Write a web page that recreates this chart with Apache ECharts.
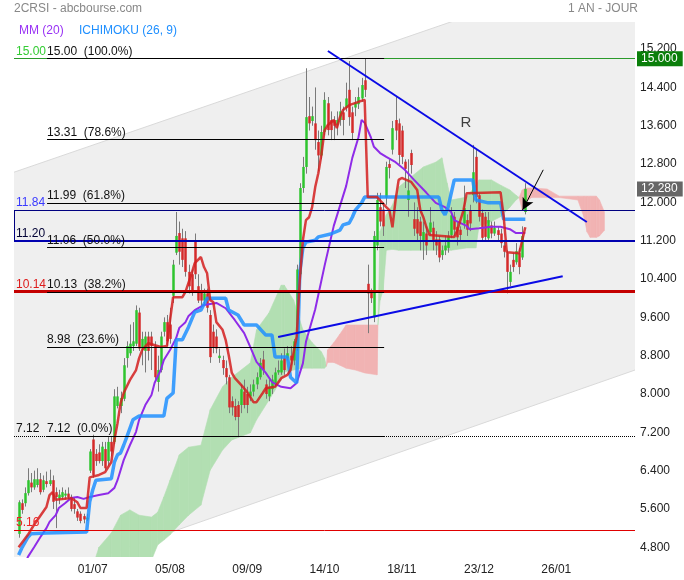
<!DOCTYPE html>
<html>
<head>
<meta charset="utf-8">
<title>2CRSI</title>
<script src="https://cdn.jsdelivr.net/npm/echarts@6.0.0/dist/echarts.min.js"></script>
<style>
  html, body { margin: 0; padding: 0; background: #fff; }
  #chart { width: 684px; height: 580px; }
</style>
</head>
<body>
<div id="chart"></div>
<script>
// x axis: one slot per trading day (plus the 26 day ichimoku projection)
var xTickIdx = [25, 50, 75, 100, 125, 150, 175]
var xTicks = ['01/07', '05/08', '09/09', '14/10', '18/11', '23/12', '26/01']
var yTicks = [4.8, 5.6, 6.4, 7.2, 8.0, 8.8, 9.6, 10.4, 11.2, 12.0, 12.8, 13.6, 14.4, 15.2]

// daily candles [open, high, low, close], first one sits in slot 1
var firstDay = 1
var ohlc = [
  [5.08, 5.78, 5.00, 5.74], [5.72, 5.80, 5.50, 5.58], [5.72, 6.05, 5.65, 5.93], [5.93, 6.45, 5.88, 6.20],
  [6.15, 6.35, 5.95, 6.05], [6.05, 6.40, 6.00, 6.22], [6.10, 6.45, 6.05, 6.22], [6.22, 6.35, 5.90, 5.95],
  [6.00, 6.30, 5.95, 6.20], [6.18, 6.38, 6.05, 6.12], [6.12, 6.42, 6.08, 6.20], [6.20, 6.30, 5.60, 5.75],
  [5.95, 6.05, 5.20, 5.85], [5.82, 6.00, 5.70, 5.90], [5.85, 6.05, 5.80, 5.95], [5.88, 6.00, 5.80, 5.92],
  [5.92, 6.05, 5.80, 5.85], [5.82, 5.90, 5.55, 5.60], [5.70, 5.85, 5.50, 5.60], [5.55, 5.60, 5.35, 5.42],
  [5.50, 5.55, 5.30, 5.35], [5.45, 5.50, 5.30, 5.38], [5.38, 5.50, 5.35, 5.42], [6.40, 6.85, 6.35, 6.80],
  [7.05, 7.15, 6.25, 6.30], [6.75, 6.85, 6.50, 6.60], [6.78, 6.95, 6.55, 6.60], [6.60, 7.00, 6.50, 6.90],
  [6.85, 7.00, 6.40, 6.45], [6.60, 7.10, 6.50, 7.00], [7.00, 7.10, 6.70, 6.80], [7.00, 8.10, 6.95, 7.95],
  [7.75, 8.15, 7.70, 7.95], [7.75, 8.05, 7.60, 7.92], [7.90, 8.75, 7.85, 8.60], [8.75, 9.10, 8.55, 9.00],
  [8.85, 9.45, 8.80, 9.05], [9.00, 9.50, 8.90, 9.10], [9.05, 9.85, 9.00, 9.75], [9.70, 9.80, 8.90, 8.95],
  [8.95, 9.30, 8.60, 9.15], [8.90, 9.30, 8.45, 9.20], [9.20, 9.30, 8.70, 8.90], [9.20, 9.30, 8.50, 9.00],
  [9.00, 9.10, 8.30, 8.35], [8.25, 8.80, 8.05, 8.50], [8.50, 9.30, 8.45, 9.20], [9.30, 9.60, 9.20, 9.50],
  [9.50, 9.65, 9.00, 9.10], [9.45, 9.80, 9.05, 9.15], [10.05, 10.80, 9.90, 10.70], [10.95, 11.80, 10.90, 11.30],
  [11.36, 11.60, 10.70, 10.97], [11.25, 11.45, 10.65, 10.80], [11.25, 11.40, 10.45, 10.55], [10.55, 10.70, 10.10, 10.25],
  [10.50, 10.60, 10.05, 10.15], [11.20, 11.35, 10.40, 10.50], [10.25, 10.50, 9.90, 9.95], [10.15, 10.30, 9.80, 9.95],
  [9.95, 10.20, 9.85, 10.10], [10.10, 10.20, 9.70, 9.80], [9.65, 9.75, 8.65, 8.77], [9.30, 9.45, 8.85, 8.98],
  [9.20, 9.35, 8.85, 8.95], [8.75, 8.95, 8.65, 8.80], [8.71, 8.80, 8.40, 8.54], [8.54, 8.70, 8.20, 8.35],
  [8.35, 8.40, 7.60, 7.72], [7.85, 7.95, 7.55, 7.72], [7.75, 7.90, 7.45, 7.52], [7.77, 7.85, 7.10, 7.52],
  [7.77, 8.20, 7.60, 8.10], [8.05, 8.30, 7.70, 7.77], [8.00, 8.15, 7.60, 7.77], [7.95, 8.20, 7.85, 8.05],
  [8.05, 8.30, 7.95, 8.20], [8.20, 8.45, 8.10, 8.35], [8.35, 8.75, 8.30, 8.65], [8.72, 8.90, 8.40, 8.50],
  [8.20, 8.30, 7.90, 8.00], [7.95, 8.30, 7.85, 8.15], [8.10, 8.40, 8.00, 8.30], [8.20, 8.55, 8.15, 8.45],
  [8.45, 8.70, 8.40, 8.50], [8.45, 8.85, 8.40, 8.70], [8.75, 8.95, 8.40, 8.50], [8.75, 9.00, 8.70, 8.85],
  [8.80, 9.00, 8.60, 8.70], [8.70, 9.15, 8.60, 9.10], [8.98, 10.70, 8.90, 10.60], [10.50, 12.40, 10.40, 12.30],
  [12.30, 12.95, 12.20, 12.74], [12.74, 14.80, 12.60, 13.78], [13.80, 14.20, 13.50, 13.65], [13.70, 14.00, 13.60, 13.80],
  [13.65, 14.40, 13.10, 13.30], [13.26, 13.50, 12.65, 12.98], [12.98, 13.60, 12.90, 13.47], [13.47, 14.30, 13.40, 14.14],
  [14.07, 14.20, 13.40, 13.51], [13.72, 13.90, 13.30, 13.51], [13.72, 13.80, 13.30, 13.60], [13.62, 13.90, 13.40, 13.72],
  [13.72, 14.10, 13.60, 13.90], [13.88, 14.00, 13.40, 13.72], [13.98, 14.50, 13.90, 14.17], [14.35, 14.95, 13.60, 13.78],
  [13.88, 14.00, 13.30, 13.45], [13.98, 14.20, 13.80, 14.08], [14.05, 14.40, 13.95, 14.20], [14.17, 14.60, 14.10, 14.45],
  [14.55, 15.00, 14.20, 14.35], [10.30, 10.70, 9.27, 10.10], [10.15, 10.20, 9.90, 10.00], [9.60, 11.40, 9.50, 11.30],
  [11.10, 12.20, 11.00, 12.05], [11.90, 12.20, 11.50, 11.60], [11.85, 12.00, 11.30, 11.50], [12.10, 12.85, 11.95, 12.74],
  [12.80, 12.90, 12.50, 12.72], [13.10, 13.70, 13.00, 13.55], [13.72, 14.20, 13.30, 13.50], [13.65, 13.75, 12.80, 12.99],
  [13.50, 13.60, 12.80, 12.95], [12.85, 12.90, 12.30, 12.70], [12.05, 12.90, 11.70, 12.25], [13.03, 13.10, 12.60, 12.78],
  [11.65, 12.00, 11.30, 11.45], [11.65, 11.90, 11.20, 11.35], [11.60, 11.70, 11.00, 11.30], [11.20, 11.60, 10.80, 11.38],
  [11.35, 11.50, 10.90, 11.10], [11.38, 11.90, 11.30, 11.58], [11.47, 11.60, 11.00, 11.18], [11.23, 11.40, 10.90, 11.10],
  [11.23, 11.30, 10.75, 10.85], [10.90, 11.10, 10.80, 11.00], [11.00, 11.30, 10.90, 11.10], [11.05, 11.40, 10.95, 11.30],
  [11.32, 11.90, 11.25, 11.73], [11.70, 11.80, 11.30, 11.43], [11.49, 11.60, 11.10, 11.27], [11.43, 11.50, 11.20, 11.32],
  [11.56, 12.35, 11.45, 11.88], [11.63, 11.75, 11.30, 11.43], [11.84, 11.95, 11.40, 11.56], [12.15, 13.20, 12.00, 12.63],
  [12.95, 13.10, 11.98, 12.11], [12.15, 12.20, 11.60, 11.70], [11.78, 11.85, 11.20, 11.26], [11.70, 11.80, 11.20, 11.28],
  [11.25, 11.80, 11.20, 11.63], [11.52, 11.60, 11.25, 11.35], [11.35, 11.60, 11.30, 11.47], [11.42, 11.50, 11.20, 11.32],
  [11.35, 11.45, 11.05, 11.15], [11.10, 11.20, 10.85, 10.97], [10.94, 11.00, 10.10, 10.55], [10.34, 10.70, 10.25, 10.55],
  [10.80, 10.95, 10.55, 10.65], [10.75, 11.15, 10.70, 10.98], [10.94, 11.05, 10.50, 10.65], [10.85, 11.50, 10.80, 11.30],
  [11.80, 12.40, 11.75, 12.28]
]

// ichimoku tenkan (red), kijun (blue) and 20 day average (purple), read as [slot, value]
var tenkan = [
  [1, 4.80], [4, 5.06], [6, 5.27], [10, 5.64], [11, 5.89], [12, 5.95], [13, 5.79], [18, 5.83], [20, 5.74],
  [21, 5.62], [23, 5.62], [24, 6.26], [27, 6.31], [29, 6.37], [31, 6.58], [32, 7.04], [33, 7.39], [34, 7.81],
  [35, 8.02], [37, 8.29], [39, 8.50], [40, 8.75], [41, 8.92], [43, 9.06], [47, 8.98], [49, 9.00], [50, 9.54],
  [51, 10.02], [54, 10.02], [55, 10.13], [57, 10.52], [58, 10.73], [60, 10.86], [61, 10.65], [62, 10.52],
  [63, 9.96], [64, 9.92], [65, 9.50], [67, 9.34], [68, 9.13], [69, 8.81], [70, 8.44], [71, 8.33], [73, 8.19],
  [75, 8.04], [77, 7.83], [78, 7.83], [80, 8.02], [81, 8.12], [84, 8.15], [86, 8.33], [88, 8.40], [89, 8.50],
  [90, 8.87], [91, 9.20], [92, 10.38], [93, 11.21], [94, 11.63], [95, 11.69], [96, 11.90], [97, 12.32],
  [98, 12.61], [99, 13.00], [100, 13.50], [101, 13.61], [103, 13.72], [104, 13.55], [105, 13.78], [106, 13.93],
  [108, 14.03], [111, 14.10], [113, 14.14], [114, 12.11], [117, 12.11], [120, 11.90], [121, 11.84], [122, 11.48],
  [123, 12.05], [124, 12.47], [125, 12.51], [128, 12.43], [130, 12.26], [131, 11.84], [132, 11.69], [133, 11.48],
  [134, 11.32], [142, 11.28], [143, 11.42], [144, 11.63], [145, 11.84], [146, 12.19], [157, 12.21], [158, 11.70],
  [159, 10.96], [163, 10.94], [164, 11.21], [165, 11.48]
]
var kijun = [
  [1, 4.64], [2, 4.78], [4, 5.01], [5, 5.08], [10, 5.10], [23, 5.12], [24, 5.75], [25, 6.00], [26, 6.20],
  [31, 6.23], [32, 6.58], [33, 6.73], [34, 6.77], [35, 6.93], [36, 7.10], [38, 7.46], [40, 7.54], [48, 7.54],
  [49, 7.91], [51, 8.02], [52, 9.13], [54, 9.13], [56, 9.40], [58, 9.71], [60, 9.75], [62, 10.00], [68, 10.00],
  [69, 9.75], [72, 9.65], [74, 9.44], [78, 9.44], [81, 9.23], [83, 9.23], [84, 8.77], [88, 8.77], [89, 8.35],
  [91, 8.23], [92, 10.53], [93, 11.05], [94, 11.17], [97, 11.21], [98, 11.28], [102, 11.34], [105, 11.42],
  [106, 11.53], [108, 11.57], [109, 11.69], [110, 11.84], [112, 11.99], [113, 12.11], [137, 12.11], [138, 11.84],
  [139, 11.74], [140, 11.90], [142, 12.47], [148, 12.47], [149, 12.05], [153, 11.99], [157, 11.99], [158, 11.65],
  [165, 11.65]
]
var mm20 = [
  [3, 4.45], [4, 4.60], [6, 4.80], [8, 5.01], [10, 5.20], [11, 5.33], [13, 5.47], [14, 5.62], [16, 5.72],
  [18, 5.83], [20, 5.85], [22, 5.81], [24, 5.85], [27, 5.89], [30, 5.93], [32, 6.04], [33, 6.20], [35, 6.62],
  [37, 6.93], [39, 7.21], [40, 7.46], [42, 7.77], [44, 7.98], [45, 8.23], [47, 8.50], [48, 8.71], [50, 8.92],
  [52, 9.17], [53, 9.38], [55, 9.50], [56, 9.63], [58, 9.75], [61, 9.86], [65, 9.90], [68, 9.79], [71, 9.54],
  [74, 9.27], [76, 8.98], [78, 8.67], [81, 8.44], [83, 8.25], [86, 8.15], [89, 8.12], [91, 8.23], [93, 8.64],
  [94, 9.09], [97, 9.77], [100, 10.67], [103, 11.51], [107, 12.34], [109, 12.93], [111, 13.36], [112, 13.72],
  [113, 13.66], [115, 13.36], [116, 13.16], [118, 13.03], [120, 12.95], [123, 12.84], [126, 12.68], [129, 12.47],
  [133, 12.20], [136, 11.99], [139, 11.90], [141, 11.80], [142, 11.63], [146, 11.51], [147, 11.44], [150, 11.46],
  [154, 11.49], [157, 11.49], [160, 11.44], [162, 11.36], [165, 11.36]
]

// ichimoku cloud [slot, senkou A, senkou B]
var cloud = [
  [26, 4.60, 4.55], [27, 4.80, 4.43], [31, 5.10, 4.43], [34, 5.47, 4.43], [37, 5.58, 4.43], [40, 5.47, 4.43],
  [44, 5.43, 4.53], [46, 5.53, 4.85], [48, 5.85, 4.95], [50, 6.20, 5.06], [53, 6.73, 5.27], [56, 6.89, 5.47],
  [60, 6.93, 5.68], [63, 7.67, 6.41], [67, 8.15, 6.83], [70, 8.35, 7.04], [76, 8.65, 7.19], [78, 9.34, 7.46],
  [82, 9.69, 7.87], [86, 10.27, 8.29], [87, 10.27, 8.46], [90, 9.96, 8.50], [93, 9.34, 8.54], [96, 9.07, 8.54],
  [99, 8.88, 8.54], [100, 8.75, 8.54], [100.6, 8.58, 8.58], [101, 8.66, 8.92], [103, 8.66, 9.07], [105, 8.60, 9.25],
  [107, 8.54, 9.44], [110, 8.50, 9.44], [113, 8.44, 9.44], [117, 8.40, 9.44], [117.3, 9.44, 9.44],
  [118, 11.40, 9.96], [119, 11.55, 10.17], [120, 11.74, 11.00], [122, 11.95, 11.02], [124, 12.32, 11.00],
  [128, 12.53, 11.00], [132, 12.74, 11.00], [136, 12.84, 11.00], [138, 12.93, 11.00], [139.7, 12.40, 11.00],
  [141, 12.05, 11.00], [146, 12.11, 11.05], [149, 12.36, 11.05], [150, 12.47, 11.50], [154, 12.47, 11.60],
  [157, 12.36, 11.70], [160, 12.26, 11.90], [162, 12.15, 12.05], [163, 12.10, 12.10], [164, 11.84, 12.26],
  [165, 12.00, 12.30], [167, 12.10, 12.30], [172, 12.10, 12.28], [176, 12.10, 12.13], [182, 12.05, 12.13],
  [184, 11.69, 12.13], [185, 11.38, 12.13], [186, 11.27, 12.13], [188, 11.27, 12.13], [189, 11.30, 12.05],
  [190.6, 11.42, 11.80]
]

// drawn levels and fibonacci retracement
var levels = [15.00, 11.84, 11.20, 10.14, 7.12, 5.16]
var fibLevels = [15.00, 13.31, 11.99, 11.06, 10.13, 8.98, 7.12]
var fibPct = ['100.0%', '78.6%', '61.8%', '50.0%', '38.2%', '23.6%', '0.0%']
var lastClose = 12.28

// drawings, as [slot, price]
var resistLine = [[101.1, 15.16], [184.9, 11.59]]
var supportLine = [[85.0, 9.19], [177.1, 10.46]]
var channelTop = [[-0.5, 12.63], [200.5, 17.09]]
var channelBottom = [[-0.5, 3.97], [200.5, 8.50]]
var arrow = [[170.8, 12.68], [164.1, 11.84]]
var note = [[145.8, 13.66]]

var font = '"Liberation Sans", Arial, sans-serif'

function drawChannel (params, api) {
  var t0 = api.coord(channelTop[0])
  var t1 = api.coord(channelTop[1])
  var b0 = api.coord(channelBottom[0])
  var b1 = api.coord(channelBottom[1])
  return {
    type: 'group',
    children: [
      {type: 'polygon', shape: {points: [t0, t1, b1, b0]}, style: {fill: '#efefef'}},
      {type: 'line', shape: {x1: t0[0], y1: t0[1], x2: t1[0], y2: t1[1]}, style: {stroke: '#d9d9d9', lineWidth: 1}},
      {type: 'line', shape: {x1: b0[0], y1: b0[1], x2: b1[0], y2: b1[1]}, style: {stroke: '#d9d9d9', lineWidth: 1}}
    ]
  }
}

function drawCloud (params, api) {
  var k = params.dataIndex
  if (k >= cloud.length - 1) return
  var p = cloud[k]
  var q = cloud[k + 1]
  var pts = [api.coord([p[0], p[1]]), api.coord([q[0], q[1]]), api.coord([q[0], q[2]]), api.coord([p[0], p[2]])]
  var col = (p[1] + q[1]) >= (p[2] + q[2]) ? '#b2dfb2' : '#f1b3b3'
  return {type: 'polygon', shape: {points: pts}, style: {fill: col, stroke: col, lineWidth: 0.6}}
}

function drawCandle (params, api) {
  var x = api.value(0)
  var o = api.coord([x, api.value(1)])
  var h = api.coord([x, api.value(2)])
  var l = api.coord([x, api.value(3)])
  var c = api.coord([x, api.value(4)])
  var up = api.value(4) >= api.value(1)
  var w = 2.5
  var cx = Math.round(o[0]) + 0.5
  var top = Math.min(o[1], c[1])
  var hgt = Math.max(1, Math.abs(o[1] - c[1]))
  return {
    type: 'group',
    children: [
      {type: 'line', shape: {x1: cx, y1: h[1], x2: cx, y2: l[1]}, style: {stroke: '#7a7a7a', lineWidth: 1}},
      {type: 'rect', shape: {x: cx - w / 2, y: top, width: w, height: hgt}, style: {fill: up ? '#2ec42e' : '#d42a2a'}}
    ]
  }
}

var candleData = ohlc.map(function (d, k) { return [firstDay + k, d[0], d[1], d[2], d[3]] })

var lineColor = ['#2a9a2a', '#000080', '#0000b0', '#c40000', '#000000', '#e00000']
var lineWidth = [1, 1, 2, 3, 1, 1]
var labelColor = ['#33cc33', '#3a3aff', '#000033', '#dd1a1a', '#111111', '#ee2222']

var markData = []
levels.forEach(function (v, k) {
  markData.push({
    yAxis: v,
    lineStyle: {color: lineColor[k], width: lineWidth[k], type: k === 4 ? 'dotted' : 'solid'},
    label: {show: true, position: 'insideStartTop', distance: [2, 1], formatter: v.toFixed(2), color: labelColor[k], fontSize: 12, fontFamily: font}
  })
})
fibLevels.forEach(function (v, k) {
  markData.push([
    {coord: [10.2, v], lineStyle: {color: '#000', width: 1, type: 'solid'},
      label: {show: true, position: 'insideStartTop', distance: [0, 1], formatter: v.toFixed(2) + '  (' + fibPct[k] + ')', color: '#111', fontSize: 12, fontFamily: font}},
    {coord: [119.3, v]}
  ])
})
// left edge of the 11.20 / 11.84 box
markData.push([{coord: [-0.5, levels[2]], lineStyle: {color: '#000080', width: 1, type: 'solid'}, label: {show: false}}, {coord: [-0.5, levels[1]]}])
// trend lines
markData.push([{coord: resistLine[0], lineStyle: {color: '#0a0ae6', width: 2, type: 'solid'}, label: {show: false}}, {coord: resistLine[1]}])
markData.push([{coord: supportLine[0], lineStyle: {color: '#0a0ae6', width: 2, type: 'solid'}, label: {show: false}}, {coord: supportLine[1]}])
// arrow
markData.push([
  {coord: arrow[0], symbol: 'none', lineStyle: {color: '#000', width: 1, type: 'solid'}, label: {show: false}},
  {coord: arrow[1], symbol: 'arrow', symbolSize: [9, 12]}
])
// price tags on the axis
markData.push({
  yAxis: levels[0], lineStyle: {color: 'rgba(0,0,0,0)', width: 0},
  label: {show: true, position: 'end', distance: 2, formatter: levels[0].toFixed(3), color: '#fff', backgroundColor: '#0b7f0b', padding: [2, 5, 1, 4], fontSize: 12, fontFamily: font}
})
markData.push({
  yAxis: lastClose, lineStyle: {color: 'rgba(0,0,0,0)', width: 0},
  label: {show: true, position: 'end', distance: 2, formatter: lastClose.toFixed(3), color: '#fff', backgroundColor: '#666', padding: [2, 5, 1, 4], fontSize: 12, fontFamily: font}
})

var chart = echarts.init(document.getElementById('chart'))
chart.setOption({
  animation: false,
  backgroundColor: '#fff',
  textStyle: {fontFamily: font},
  grid: {left: 14, right: 49, top: 22, bottom: 23},
  graphic: [
    {type: 'text', left: 14, top: 3, style: {text: '2CRSI - abcbourse.com', fill: '#888', font: '12px ' + font}},
    {type: 'text', right: 46, top: 3, style: {text: '1 AN - JOUR', fill: '#888', font: '12px ' + font}},
    {type: 'text', left: 19, top: 25, style: {text: 'MM (20)', fill: '#9932f5', font: '12px ' + font}},
    {type: 'text', left: 79, top: 25, style: {text: 'ICHIMOKU (26, 9)', fill: '#1e8fff', font: '12px ' + font}}
  ],
  xAxis: {
    type: 'value',
    min: -0.5,
    max: 200.5,
    axisLine: {show: false},
    axisTick: {show: false},
    splitLine: {show: false},
    axisLabel: {
      customValues: xTickIdx,
      color: '#222',
      fontSize: 12,
      margin: 7,
      formatter: function (v) { return xTicks[xTickIdx.indexOf(Math.round(v))] || '' }
    }
  },
  yAxis: {
    type: 'value',
    position: 'right',
    min: 4.597,
    max: 15.766,
    axisLine: {show: false},
    axisTick: {show: false},
    splitLine: {show: false},
    axisLabel: {
      customValues: yTicks,
      color: '#222',
      fontSize: 12,
      margin: 5,
      formatter: function (v) { return v.toFixed(3) }
    }
  },
  series: [
    {type: 'custom', z: 0, silent: true, clip: true, renderItem: drawChannel, data: [[0, 0]]},
    {type: 'custom', z: 1, silent: true, clip: true, renderItem: drawCloud, encode: {x: 0, y: [1, 2]}, data: cloud},
    {type: 'custom', z: 3, silent: true, clip: true, renderItem: drawCandle, encode: {x: 0, y: [1, 2, 3, 4]}, data: candleData},
    {type: 'line', z: 4, silent: true, showSymbol: false, data: mm20, lineStyle: {color: '#8f2be8', width: 2}},
    {type: 'line', z: 4, silent: true, showSymbol: false, data: kijun, lineStyle: {color: '#1e8fff', width: 3.5, opacity: 0.85}},
    {type: 'line', z: 4, silent: true, showSymbol: false, data: tenkan, lineStyle: {color: '#d41e1e', width: 2.5, opacity: 0.85}},
    {
      type: 'line', z: 5, silent: true, data: [],
      markLine: {silent: true, symbol: ['none', 'none'], animation: false, data: markData}
    },
    {
      type: 'scatter', z: 6, silent: true, symbolSize: 1, itemStyle: {color: 'transparent'}, data: note,
      label: {show: true, position: 'inside', formatter: 'R', color: '#111', fontSize: 15, fontFamily: font}
    }
  ]
})
</script>
</body>
</html>
